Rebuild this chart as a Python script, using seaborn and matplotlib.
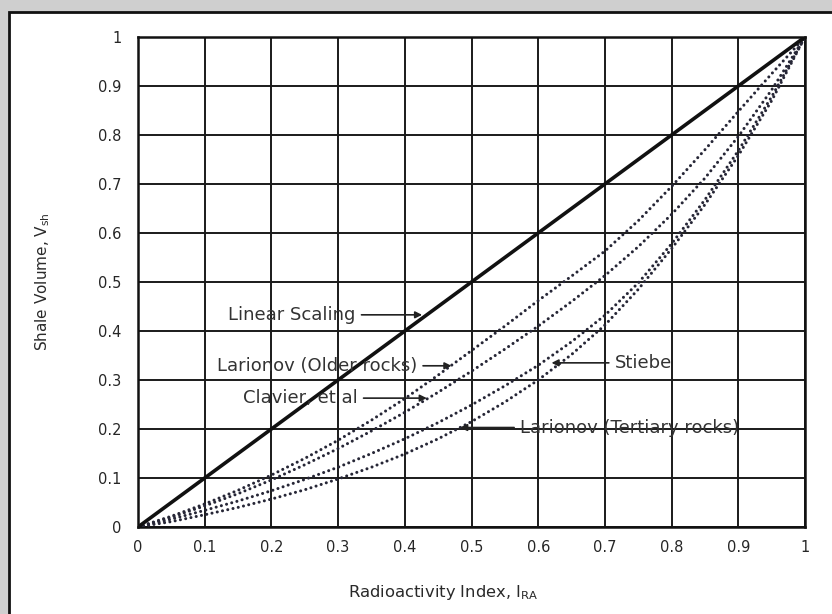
import numpy as np
import pandas as pd
import matplotlib
matplotlib.use("Agg")
import matplotlib.pyplot as plt
from matplotlib.patches import Rectangle
import seaborn as sns

# ---- data ----
x_ira = [0.00, 0.05, 0.10, 0.15, 0.20, 0.25, 0.30, 0.35, 0.40, 0.45, 0.50,
         0.55, 0.60, 0.65, 0.70, 0.75, 0.80, 0.85, 0.90, 0.95, 1.00]
linear_scaling = [0.00, 0.05, 0.10, 0.15, 0.20, 0.25, 0.30, 0.35, 0.40, 0.45, 0.50,
                  0.55, 0.60, 0.65, 0.70, 0.75, 0.80, 0.85, 0.90, 0.95, 1.00]
larionov_older = [0.000, 0.022, 0.047, 0.075, 0.106, 0.140, 0.177, 0.218, 0.262, 0.310, 0.360,
                  0.410, 0.462, 0.512, 0.563, 0.625, 0.695, 0.770, 0.848, 0.925, 1.000]
clavier = [0.000, 0.020, 0.043, 0.068, 0.096, 0.127, 0.160, 0.196, 0.234, 0.275, 0.318,
           0.363, 0.410, 0.460, 0.513, 0.572, 0.638, 0.712, 0.797, 0.892, 1.000]
stieber = [0.000, 0.016, 0.034, 0.053, 0.074, 0.097, 0.122, 0.150, 0.180, 0.213, 0.249,
           0.288, 0.330, 0.378, 0.432, 0.498, 0.578, 0.668, 0.768, 0.878, 1.000]
larionov_tertiary = [0.000, 0.011, 0.025, 0.040, 0.057, 0.076, 0.098, 0.122, 0.149, 0.180, 0.215,
                     0.255, 0.300, 0.352, 0.412, 0.485, 0.568, 0.658, 0.758, 0.870, 1.000]

tick_vals = [0, 0.1, 0.2, 0.3, 0.4, 0.5, 0.6, 0.7, 0.8, 0.9, 1]
tick_labels = ["0", "0.1", "0.2", "0.3", "0.4", "0.5", "0.6", "0.7", "0.8", "0.9", "1"]

# annotation labels: (text, arrow tip x, tip y, text x)
labels = [
    ("Linear Scaling", 0.426, 0.433, 0.135),
    ("Larionov (Older rocks)", 0.470, 0.329, 0.118),
    ("Clavier, et al", 0.433, 0.263, 0.157),
    ("Stiebe", 0.620, 0.335, 0.715),
    ("Larionov (Tertiary rocks)", 0.483, 0.203, 0.573),
]

series = {
    "Larionov (Older rocks)": larionov_older,
    "Clavier, et al": clavier,
    "Stieber": stieber,
    "Larionov (Tertiary rocks)": larionov_tertiary,
}
df = pd.DataFrame(
    [(name, xv, yv) for name, ys in series.items() for xv, yv in zip(x_ira, ys)],
    columns=["curve", "ira", "vsh"],
)
df_lin = pd.DataFrame({"ira": x_ira, "vsh": linear_scaling})

sns.set_style("white")
plt.rcParams["font.family"] = ["DejaVu Sans"]

W, H = 832, 614
fig = plt.figure(figsize=(W / 100, H / 100), dpi=100)
fig.patch.set_facecolor("#cfcfcf")
# white page with black frame (cropped on right/bottom)
fig.add_artist(Rectangle((9 / W, -0.05), 1.2, 1 - 12 / H + 0.05, transform=fig.transFigure,
                         facecolor="white", edgecolor="#111111", linewidth=2.0, zorder=0))

ax = fig.add_axes([138 / W, 1 - 527 / H, (805 - 138) / W, (527 - 37) / H])
ax.set_facecolor("none")

sns.lineplot(data=df_lin, x="ira", y="vsh", ax=ax, color="#111111", linewidth=2.6,
             legend=False, zorder=5)
sns.lineplot(data=df, x="ira", y="vsh", units="curve", estimator=None, ax=ax,
             color="#262636", linewidth=2.2, legend=False, zorder=4)
for ln in ax.lines[1:]:
    ln.set_linestyle((0, (0.01, 1.75)))
    ln.set_dash_capstyle("round")

ax.set_xlim(0, 1)
ax.set_ylim(0, 1)
ax.set_xticks(tick_vals)
ax.set_xticklabels(tick_labels)
ax.set_yticks(tick_vals)
ax.set_yticklabels(tick_labels)
ax.grid(True, color="#1a1a1a", linewidth=1.4)
ax.set_axisbelow(True)
for s in ax.spines.values():
    s.set_color("#111111")
    s.set_linewidth(1.8)
ax.tick_params(axis="both", length=4, width=1.2, color="#111111", labelsize=10.5,
               labelcolor="#262626")
ax.tick_params(axis="x", pad=5)
ax.tick_params(axis="y", pad=8)

ax.set_xlabel("Radioactivity Index, I$_{\\mathregular{RA}}$", fontsize=11.8, color="#2a2a2a")
ax.set_ylabel("Shale Volume, V$_{\\mathregular{sh}}$", fontsize=11, color="#2a2a2a")
ax.xaxis.set_label_coords(0.457, -0.114)
ax.yaxis.set_label_coords(-0.129, 0.5)

for text, tx, ty, lx in labels:
    ax.annotate(text, xy=(tx, ty), xytext=(lx, ty), textcoords="data",
                ha="left", va="center", fontsize=13, color="#333333",
                arrowprops=dict(arrowstyle="-|>", color="#222222", lw=1.2,
                                mutation_scale=10, shrinkA=2, shrinkB=0),
                zorder=6)

fig.savefig("out.png", dpi=100, facecolor=fig.get_facecolor())
